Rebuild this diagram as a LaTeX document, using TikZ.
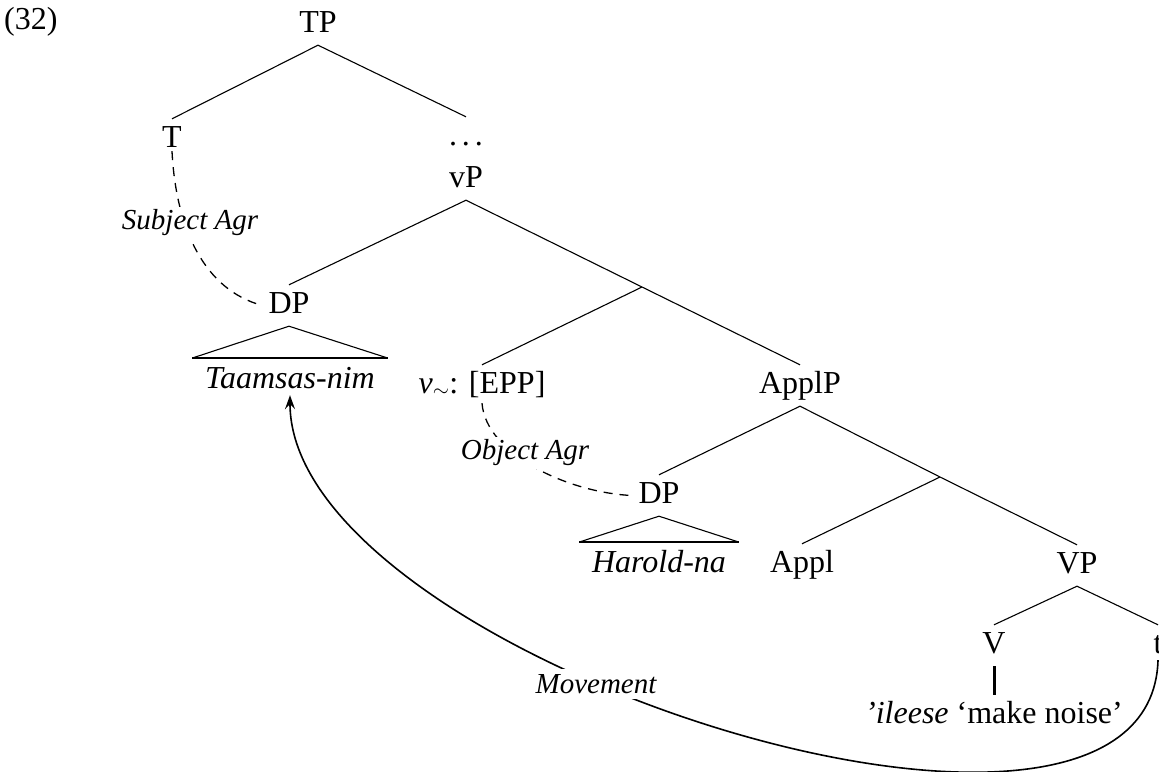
\documentclass[tikz,border=0pt]{standalone}
\usepackage{fontspec}
\setmainfont{Liberation Serif}
\usetikzlibrary{arrows.meta}
\begin{document}
\begin{tikzpicture}[x=1pt,y=-1pt,
  lab/.style={font=\fontsize{32}{38}\selectfont, text height=22pt, text depth=7pt, inner sep=6pt, anchor=base},
  edge/.style={line width=1.1pt},
  roofbase/.style={line width=2.6pt},
  agr/.style={line width=1.3pt, dash pattern=on 9pt off 7pt},
  arclab/.style={font=\fontsize{29}{34}\selectfont\itshape, inner sep=3pt, fill=white},
  movearrow/.style={line width=1.6pt, -{Stealth[length=14pt,width=10pt,inset=5pt]}},
]
\useasboundingbox (0,0) rectangle (1159,771);

% example number
\node[font=\fontsize{32}{38}\selectfont, inner sep=0pt, anchor=base west] (ex) at (4,29) {(32)};

% nodes
\node[lab] (TP) at (318,32) {TP};
\node[lab] (T) at (172,147) {T};
\node[lab] (dots) at (466,145) {.\kern5pt.\kern5pt.};
\node[lab] (vP) at (466,187) {vP};
\node[lab] (DPs) at (289,313) {DP};
\node[lab] (tam) at (290,388) {\itshape Taamsas-nim};
\coordinate (vbar) at (642,287);
\node[lab] (vepp) at (482,393) {{\itshape v}$_{\sim}$: [EPP]};
\node[lab] (ApplP) at (800,393) {ApplP};
\node[lab] (DPo) at (659,503) {DP};
\node[lab] (har) at (659,572) {\itshape Harold-na};
\coordinate (applbar) at (940,477);
\node[lab] (Appl) at (802,572) {Appl};
\node[lab] (VP) at (1077,573) {VP};
\node[lab] (V) at (994,653) {V};
\node[lab] (t) at (1158,653) {t};
\node[lab] (ile) at (994,723) {{\itshape ’ileese} ‘make noise’};

% tree edges
\draw[edge] (TP.south) -- (T.north);
\draw[edge] (TP.south) -- (dots.north);
\draw[edge] (vP.south) -- (DPs.north);
\draw[edge] (vP.south) -- (vbar);
\draw[edge] (vbar) -- (vepp.north);
\draw[edge] (vbar) -- (ApplP.north);
\draw[edge] (ApplP.south) -- (DPo.north);
\draw[edge] (ApplP.south) -- (applbar);
\draw[edge] (applbar) -- (Appl.north);
\draw[edge] (applbar) -- (VP.north);
\draw[edge] (VP.south) -- (V.north);
\draw[edge] (VP.south) -- (t.north);
\draw[line width=3pt] (V.south) -- (ile.north);

% roofs
\draw[edge] ([xshift=-97pt,yshift=2pt]tam.north) -- (DPs.south) -- ([xshift=97pt,yshift=2pt]tam.north);
\draw[roofbase] ([xshift=-98pt,yshift=2pt]tam.north) -- ([xshift=98pt,yshift=2pt]tam.north);
\draw[edge] ([xshift=-79pt,yshift=2pt]har.north) -- (DPo.south) -- ([xshift=79pt,yshift=2pt]har.north);
\draw[roofbase] ([xshift=-80pt,yshift=2pt]har.north) -- ([xshift=80pt,yshift=2pt]har.north);

% agreement relations
\draw[agr] ([yshift=9pt]T.south) .. controls (176,230) and (205,290) .. (DPs.west);
\node[arclab] (sagr) at (190,223) {Subject Agr};
\draw[agr] ([yshift=3pt]vepp.south) .. controls (486,455) and (570,493) .. (DPo.west);
\node[arclab] (oagr) at (525,453) {Object Agr};

% movement
\draw[movearrow] ([yshift=6pt]t.south) .. controls (1150,930) and (290,660) .. ([yshift=6pt]tam.south);
\node[arclab, inner sep=5pt] (mv) at (596,684) {Movement};
\end{tikzpicture}
\end{document}
